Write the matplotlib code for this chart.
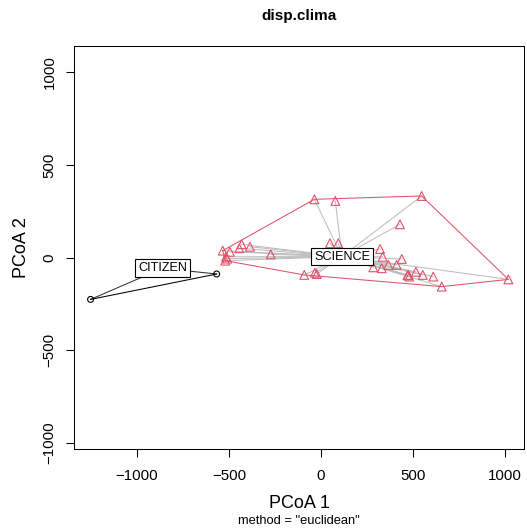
import numpy as np
import matplotlib
matplotlib.use("Agg")
import matplotlib.pyplot as plt

plt.rcParams['font.family'] = ['Liberation Sans', 'DejaVu Sans']

# ---- data ----
science_x = [-36, 78, 547, 429, 49, 94,
             -431, -386, -444, -273, -534, -495, -516, -520, -510,
             321, 335, 439, 284, 330, 366, 411,
             474, 516, 553, 610, 480, 1018, 656,
             -91, -33, -23, 470]
science_y = [315, 306, 333, 180, 78, 78,
             72, 59, 51, 18, 38, 32, 5, -16, -5,
             47, 5, -7, -52, -57, -39, -39,
             -93, -76, -93, -102, -102, -117, -156,
             -93, -81, -88, -95]
citizen_x = [-567, -1252]
citizen_y = [-88, -225]
centroid_names = ["CITIZEN", "SCIENCE"]
centroid_x = [-861, 114]
centroid_y = [-57, 6]
x_ticks = [-1000, -500, 0, 500, 1000]
y_ticks = [-1000, -500, 0, 500, 1000]

RED = "#DF536B"
GREY = "#BEBEBE"


def convex_hull(xs, ys):
    pts = sorted(set(zip(xs, ys)))
    if len(pts) <= 2:
        return pts

    def cross(o, a, b):
        return (a[0] - o[0]) * (b[1] - o[1]) - (a[1] - o[1]) * (b[0] - o[0])
    lower, upper = [], []
    for p in pts:
        while len(lower) >= 2 and cross(lower[-2], lower[-1], p) <= 0:
            lower.pop()
        lower.append(p)
    for p in reversed(pts):
        while len(upper) >= 2 and cross(upper[-2], upper[-1], p) <= 0:
            upper.pop()
        upper.append(p)
    return lower[:-1] + upper[:-1]


W, H = 527, 532
fig = plt.figure(figsize=(W / 100, H / 100), dpi=100)
ax = fig.add_axes([74 / W, 83 / H, 450 / W, 403 / H])
ax.set_xlim(-1342, 1103)
ax.set_ylim(-1032, 1142)

# segments to centroids
for x, y in zip(science_x, science_y):
    ax.plot([centroid_x[1], x], [centroid_y[1], y], color=GREY, lw=0.75, zorder=1)
for x, y in zip(citizen_x, citizen_y):
    ax.plot([centroid_x[0], x], [centroid_y[0], y], color="#333333", lw=0.75, zorder=1)

# hulls
h = convex_hull(science_x, science_y)
hx = [p[0] for p in h] + [h[0][0]]
hy = [p[1] for p in h] + [h[0][1]]
ax.plot(hx, hy, color=RED, lw=0.75, zorder=2)
hc = convex_hull(citizen_x, citizen_y)
ax.plot([p[0] for p in hc], [p[1] for p in hc], color="black", lw=0.75, zorder=2)

# points
ax.scatter(science_x, science_y, marker="^", s=40, facecolors="none",
           edgecolors=RED, linewidths=0.8, zorder=3)
ax.scatter(citizen_x, citizen_y, marker="o", s=18, facecolors="none",
           edgecolors="black", linewidths=0.8, zorder=3)

# centroid labels
for name, x, y in zip(centroid_names, centroid_x, centroid_y):
    ax.text(x, y, name, ha="center", va="center", fontsize=9.1, zorder=5,
            bbox=dict(boxstyle="square,pad=0.22", fc="white", ec="black", lw=0.8))

ax.set_xticks(x_ticks)
ax.set_yticks(y_ticks)
ax.set_xticklabels(["\u2212" + str(-v) if v < 0 else str(v) for v in x_ticks])
ax.set_yticklabels(["\u2212" + str(-v) if v < 0 else str(v) for v in y_ticks])
ax.tick_params(axis="both", direction="out", length=5.5, width=0.75, labelsize=10.8)
ax.tick_params(axis="x", pad=9)
ax.tick_params(axis="y", pad=7, labelrotation=90)
for lab in ax.get_yticklabels():
    lab.set_va("center")
for sp in ax.spines.values():
    sp.set_linewidth(0.75)

fig.text(299 / W, 1 - 16 / H, "disp.clima", ha="center", va="center",
         fontsize=11, fontweight="bold")
fig.text(299 / W, 1 - 503 / H, "PCoA 1", ha="center", va="center", fontsize=13)
fig.text(299 / W, 1 - 520.5 / H, 'method = "euclidean"', ha="center", va="center",
         fontsize=9.3)
fig.text(21 / W, 1 - 247.5 / H, "PCoA 2", ha="center", va="center", fontsize=13,
         rotation=90)

fig.savefig("out.png", dpi=100)
